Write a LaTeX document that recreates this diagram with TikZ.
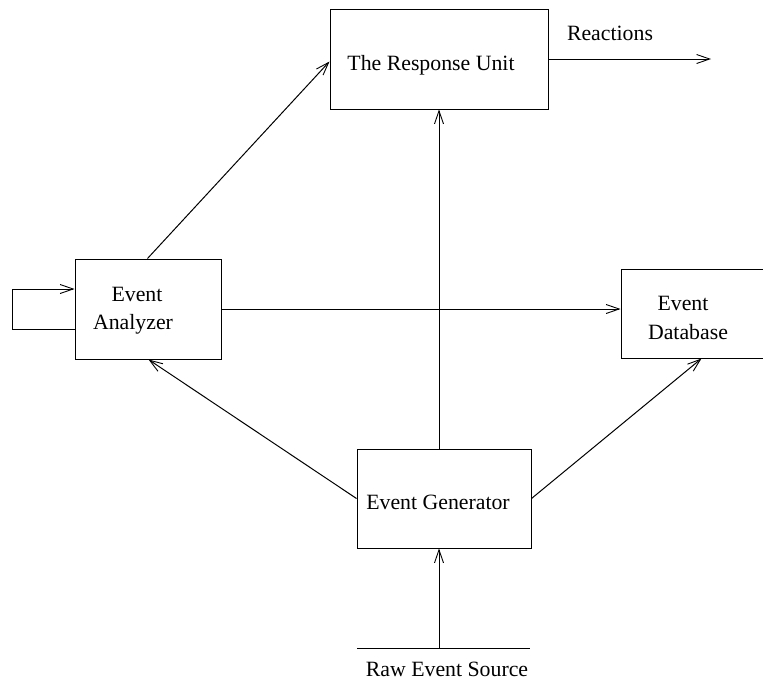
\documentclass[tikz,border=0pt]{standalone}
\usepackage{fontspec}
\setmainfont{Liberation Serif}
\usetikzlibrary{arrows.meta,calc}
\begin{document}
\begin{tikzpicture}[x=1pt,y=-1pt,
  line width=1pt,
  box/.style={draw, rectangle, inner sep=0pt},
  lbl/.style={inner sep=0pt, anchor=base, font=\fontsize{21.8}{26}\selectfont},
  flow/.style={-{Straight Barb[length=13pt,width=9pt,line width=0.9pt]}}]
  \useasboundingbox (0,0) rectangle (763,681);

  % boxes
  \node[box, minimum width=218pt, minimum height=100pt] (resp) at (439,59) {};
  \node[box, minimum width=146pt, minimum height=100pt] (anal) at (148,309) {};
  \node[box, minimum width=143pt, minimum height=89pt]  (db)   at (692.5,313.5) {};
  \node[box, minimum width=174pt, minimum height=99pt]  (gen)  at (444,498.5) {};

  % labels
  \node[lbl] (tresp) at (431,70) {The Response Unit};
  \node[lbl] (treac) at (610,40) {Reactions};
  \node[lbl] (tan1) at (137,301) {Event};
  \node[lbl] (tan2) at (133,329) {Analyzer};
  \node[lbl] (tdb1) at (683,310) {Event};
  \node[lbl] (tdb2) at (688,339) {Database};
  \node[lbl] (tgen) at (438,509) {Event Generator};
  \node[lbl] (traw) at (447,676) {Raw Event Source};

  % raw source bar
  \coordinate (rawL) at (357,648);
  \coordinate (rawR) at (530,648);
  \coordinate (rawM) at (439,648);
  \draw (rawL) -- (rawR);

  % free end of the reactions arrow
  \coordinate (reacEnd) at (711,59);

  % self loop corners
  \coordinate (loopA) at (12,329);
  \coordinate (loopB) at (12,289);

  % attachment points on the box sides
  \coordinate (anTop) at ($(anal.north west)+(73,0)$);
  \coordinate (respIn) at ($(resp.north west)+(0,53)$);
  \coordinate (anBot) at ($(anal.south west)+(74,0)$);
  \coordinate (dbBot) at ($(db.south west)+(81,0)$);

  % connectors
  \draw[flow] (rawM) -- (gen.south -| rawM);
  \draw[flow] (gen.north -| rawM) -- (resp.south -| rawM);
  \draw[flow] (resp.east) -- (reacEnd);
  \draw[flow] (anTop) -- (respIn);
  \draw[flow] (anal.east) -- (anal.east -| db.west);
  \draw[flow] (gen.west) -- (anBot);
  \draw[flow] (gen.east) -- (dbBot);
  \draw[flow] (anal.west |- loopA) -- (loopA) -- (loopB) -- (anal.west |- loopB);
\end{tikzpicture}
\end{document}
